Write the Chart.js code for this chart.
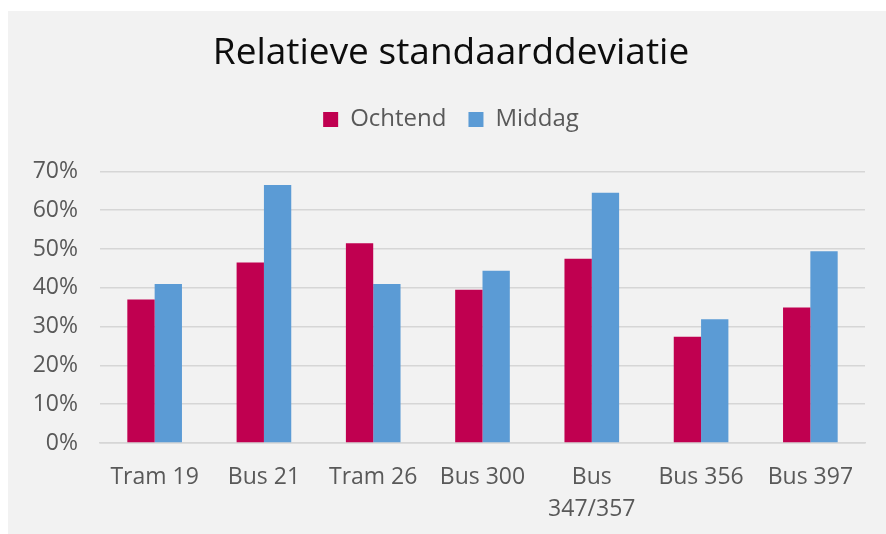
<!DOCTYPE html>
<html>
<head>
<meta charset="utf-8">
<script src="https://cdn.jsdelivr.net/npm/chart.js@4"></script>
<style>
    html, body { margin: 0; padding: 0; background: #fff; }
    #wrap { position: absolute; left: 8px; top: 11px; width: 878px; height: 523px; background: #f2f2f2; }
</style>
</head>
<body>
<div id="wrap"><canvas id="canvas" width="878" height="523"></canvas></div>
<script>
const categories = ['Tram 19', 'Bus 21', 'Tram 26', 'Bus 300', ['Bus', '347/357'], 'Bus 356', 'Bus 397'];
const ochtend = [37.0, 46.5, 51.5, 39.5, 47.5, 27.4, 34.9];
const middag = [41.0, 66.5, 41.0, 44.4, 64.5, 31.9, 49.4];
const yTicks = [0, 10, 20, 30, 40, 50, 60, 70];

const fontFamily = '"Open Sans", "Noto Sans", sans-serif';
const textGrey = '#595959';

// extra room under the legend, like the original sheet
const legendGap = {
    id: 'legendGap',
    beforeInit(chart) {
        const fit = chart.legend.fit;
        chart.legend.fit = function () {
            fit.bind(chart.legend)();
            this.height += 30;
        };
    },
};

const ctx = document.getElementById('canvas');
new Chart(ctx, {
    type: 'bar',
    data: {
        labels: categories,
        datasets: [
            {
                label: 'Ochtend',
                data: ochtend,
                backgroundColor: '#c00050',
                borderWidth: 0,
                categoryPercentage: 0.5,
                barPercentage: 1,
            },
            {
                label: 'Middag',
                data: middag,
                backgroundColor: '#5b9bd5',
                borderWidth: 0,
                categoryPercentage: 0.5,
                barPercentage: 1,
            },
        ],
    },
    plugins: [legendGap],
    options: {
        responsive: false,
        animation: false,
        layout: { padding: { left: 8, right: 0, top: 0, bottom: 0 } },
        plugins: {
            title: {
                display: true,
                text: 'Relatieve standaarddeviatie',
                color: '#0d0d0d',
                font: { family: fontFamily, size: 37, weight: 'normal' },
                padding: { top: 20, bottom: 10 },
            },
            legend: {
                labels: {
                    color: textGrey,
                    font: { family: fontFamily, size: 24 },
                    boxWidth: 15,
                    boxHeight: 15,
                    padding: 22,
                },
            },
            tooltip: { enabled: false },
        },
        scales: {
            x: {
                grid: { display: false },
                border: { color: '#d6d6d6', width: 1.5 },
                ticks: {
                    color: textGrey,
                    font: { family: fontFamily, size: 23, lineHeight: 1.4 },
                    maxRotation: 0,
                    autoSkip: false,
                    padding: 10,
                },
                afterFit: (scale) => { scale.height = 91; },
            },
            y: {
                min: 0,
                max: 70,
                afterBuildTicks: (scale) => { scale.ticks = yTicks.map((v) => ({ value: v })); },
                grid: { color: '#d6d6d6', lineWidth: 1.5, drawTicks: false },
                border: { display: false },
                ticks: {
                    color: textGrey,
                    font: { family: fontFamily, size: 23 },
                    padding: 22,
                    callback: (v) => v + '%',
                },
                afterFit: (scale) => { scale.width = 84; },
            },
            // empty strip on the right so the plot ends where the original does
            yRight: {
                position: 'right',
                grid: { display: false, drawTicks: false },
                border: { display: false },
                ticks: { display: false },
                afterFit: (scale) => { scale.width = 21; },
            },
        },
    },
});
</script>
</body>
</html>
